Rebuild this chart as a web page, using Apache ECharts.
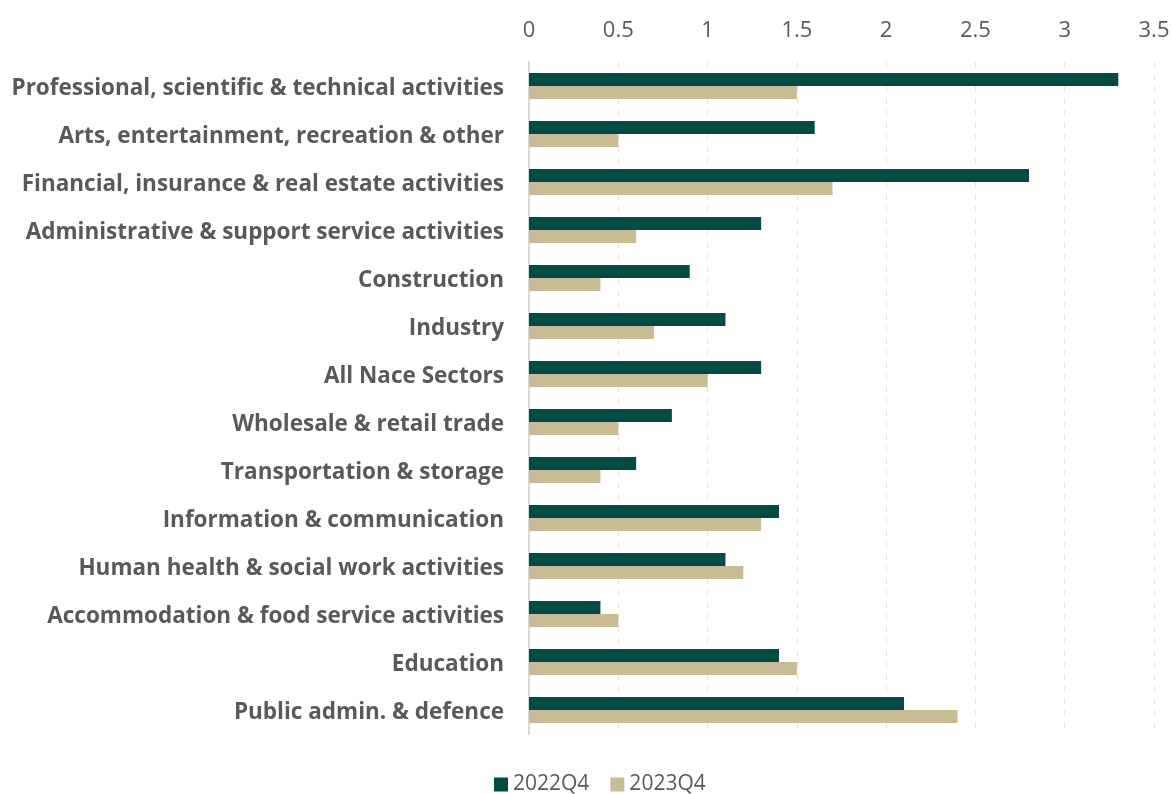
<!DOCTYPE html>
<html>
<head>
<meta charset="utf-8">
<script src="https://cdn.jsdelivr.net/npm/echarts@6/dist/echarts.min.js"></script>
<style>
  html, body { margin: 0; padding: 0; background: #fff; }
  #chart { width: 1173px; height: 794px; }
</style>
</head>
<body>
<div id="chart"></div>
<script>
// Sector categories, listed top to bottom
const categories = [
  'Professional, scientific & technical activities',
  'Arts, entertainment, recreation & other',
  'Financial, insurance & real estate activities',
  'Administrative & support service activities',
  'Construction',
  'Industry',
  'All Nace Sectors',
  'Wholesale & retail trade',
  'Transportation & storage',
  'Information & communication',
  'Human health & social work activities',
  'Accommodation & food service activities',
  'Education',
  'Public admin. & defence'
];
const seriesNames = ['2022Q4', '2023Q4'];
const values2022Q4 = [3.3, 1.6, 2.8, 1.3, 0.9, 1.1, 1.3, 0.8, 0.6, 1.4, 1.1, 0.4, 1.4, 2.1];
const values2023Q4 = [1.5, 0.5, 1.7, 0.6, 0.4, 0.7, 1.0, 0.5, 0.4, 1.3, 1.2, 0.5, 1.5, 2.4];

const fontFamily = '"Open Sans", "Noto Sans", sans-serif';
const chart = echarts.init(document.getElementById('chart'), null, { renderer: 'canvas' });

chart.setOption({
  animation: false,
  color: ['#024a44', '#c9bb94'],
  grid: { left: 529, right: 19, top: 62, bottom: 60, containLabel: false },
  legend: {
    bottom: -6,
    left: 489,
    itemWidth: 14,
    itemHeight: 14,
    itemGap: 21,
    icon: 'rect',
    textStyle: { color: '#595959', fontSize: 21, fontFamily: fontFamily },
    data: seriesNames
  },
  xAxis: {
    type: 'value',
    position: 'top',
    min: 0,
    max: 3.5,
    interval: 0.5,
    axisLine: { show: false },
    axisTick: { show: false },
    axisLabel: { color: '#595959', fontSize: 22, fontFamily: fontFamily, margin: 20 },
    splitLine: { show: true, lineStyle: { color: '#ece3d4', type: [6, 6], width: 1 } }
  },
  yAxis: {
    type: 'category',
    inverse: true,
    data: categories,
    axisLine: { show: true, lineStyle: { color: '#d9d9d9', width: 2 } },
    axisTick: { show: false },
    axisLabel: {
      margin: 25,
      formatter: (v) => '{c|' + v + '}',
      rich: {
        c: {
          color: '#595959', fontSize: 22.5, fontWeight: 'bold', fontFamily: fontFamily,
          padding: [6, 0, 0, 0]
        }
      }
    }
  },
  series: [
    {
      name: seriesNames[0], type: 'bar', data: values2022Q4,
      barWidth: 13, barGap: '0%'
    },
    {
      name: seriesNames[1], type: 'bar', data: values2023Q4,
      barWidth: 13, barGap: '0%'
    }
  ]
});
</script>
</body>
</html>
